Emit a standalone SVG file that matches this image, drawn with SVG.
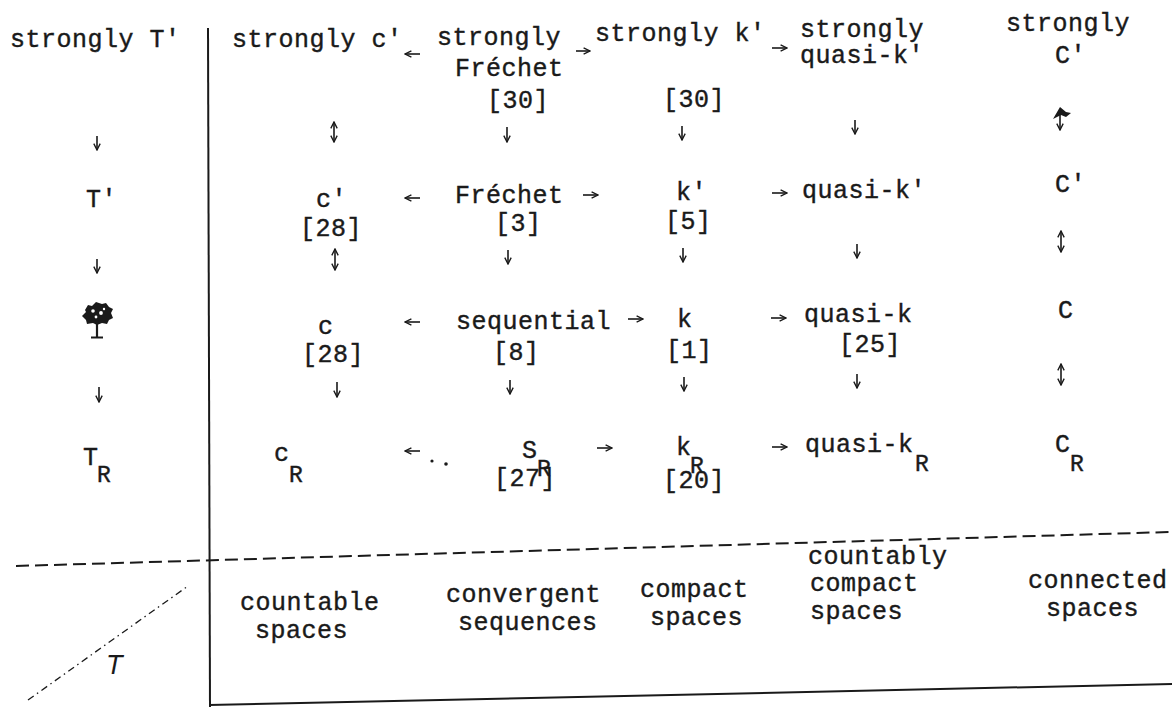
<svg xmlns="http://www.w3.org/2000/svg" width="1176" height="707" viewBox="0 0 1176 707">
<defs>
<style>
.t{font-family:"Liberation Mono","DejaVu Sans Mono",monospace;font-size:25px;letter-spacing:0.5px;fill:#1a1a1a;stroke:#1a1a1a;stroke-width:0.4}
.s{font-family:"Liberation Mono","DejaVu Sans Mono",monospace;font-size:23px;fill:#1a1a1a;stroke:#1a1a1a;stroke-width:0.4}
.ar{fill:none;stroke:#1a1a1a;stroke-width:1.6}
.ln{fill:none;stroke:#1a1a1a;stroke-width:2}
</style>
<marker id="ah" viewBox="0 0 10 10" refX="9" refY="5" markerWidth="8" markerHeight="8" markerUnits="userSpaceOnUse" orient="auto-start-reverse">
<path d="M1,1 L9,5 L1,9" fill="none" stroke="#1a1a1a" stroke-width="1.7"/>
</marker>
</defs>
<rect width="1176" height="707" fill="#fff"/>

<g id="frame">
<line class="ln" x1="208" y1="28" x2="210" y2="707"/>
<line class="ln" x1="16" y1="566" x2="1170" y2="532" stroke-dasharray="13 6"/>
<line class="ln" x1="209" y1="705" x2="1172" y2="684"/>
<line x1="28" y1="700" x2="188" y2="586" stroke="#1a1a1a" stroke-width="1.3" stroke-dasharray="7 4 1.5 4"/>
</g>

<g id="n-strongly-T"><text class="t" x="10" y="47">strongly T'</text></g>
<g id="n-strongly-c"><text class="t" x="232" y="47">strongly c'</text></g>
<g id="n-strongly-frechet"><text class="t" x="437" y="45">strongly</text><text class="t" x="455" y="76">Fréchet</text><text class="t" x="487" y="108">[30]</text></g>
<g id="n-strongly-k"><text class="t" x="595" y="41">strongly k'</text><text class="t" x="663" y="107">[30]</text></g>
<g id="n-strongly-quasi-k"><text class="t" x="800" y="37">strongly</text><text class="t" x="800" y="63">quasi-k'</text></g>
<g id="n-strongly-C"><text class="t" x="1006" y="31">strongly</text><text class="t" x="1055" y="63">C'</text></g>

<g id="n-T1"><text class="t" x="86" y="207">T'</text></g>
<g id="n-c1"><text class="t" x="316" y="207">c'</text><text class="t" x="300" y="236">[28]</text></g>
<g id="n-frechet"><text class="t" x="455" y="203">Fréchet</text><text class="t" x="495" y="231">[3]</text></g>
<g id="n-k1"><text class="t" x="676" y="200">k'</text><text class="t" x="665" y="229">[5]</text></g>
<g id="n-quasi-k1"><text class="t" x="802" y="198">quasi-k'</text></g>
<g id="n-C1"><text class="t" x="1055" y="192">C'</text></g>

<g id="n-T">
<path d="M85,310 l3,-5 4,1 4,-4 6,2 4,-1 3,4 4,2 -2,4 2,5 -4,2 -2,4 -5,-1 -5,2 -4,-2 -6,1 -1,-4 -4,-4 4,-4z" fill="#1a1a1a"/>
<circle cx="93" cy="311" r="1.8" fill="#fff"/><circle cx="101" cy="313" r="1.9" fill="#fff"/><circle cx="96" cy="317" r="1.4" fill="#fff"/><circle cx="104" cy="309" r="1.2" fill="#fff"/>
<line x1="97" y1="320" x2="97" y2="337" stroke="#1a1a1a" stroke-width="2.2"/>
<line x1="91" y1="337.5" x2="103" y2="337.5" stroke="#1a1a1a" stroke-width="2"/>
</g>
<g id="n-c"><text class="t" x="318" y="334">c</text><text class="t" x="302" y="362">[28]</text></g>
<g id="n-sequential"><text class="t" x="456" y="329">sequential</text><text class="t" x="493" y="360">[8]</text></g>
<g id="n-k"><text class="t" x="677" y="327">k</text><text class="t" x="666" y="358">[1]</text></g>
<g id="n-quasi-k"><text class="t" x="804" y="322">quasi-k</text><text class="t" x="839" y="352">[25]</text></g>
<g id="n-C"><text class="t" x="1058" y="318">C</text></g>

<g id="n-TR"><text class="t" x="83" y="465">T</text><text class="s" x="97" y="482">R</text></g>
<g id="n-cR"><text class="t" x="274" y="461">c</text><text class="s" x="289" y="482">R</text></g>
<g id="n-SR"><text class="t" x="522" y="458">S</text><text class="s" x="537" y="476">R</text><text class="t" x="494" y="486">[27]</text>
<circle cx="432" cy="461" r="1.6" fill="#1a1a1a"/><circle cx="446" cy="464" r="1.8" fill="#1a1a1a"/></g>
<g id="n-kR"><text class="t" x="676" y="455">k</text><text class="s" x="690" y="473">R</text><text class="t" x="663" y="488">[20]</text></g>
<g id="n-quasi-kR"><text class="t" x="805" y="452">quasi-k</text><text class="s" x="915" y="471">R</text></g>
<g id="n-CR"><text class="t" x="1055" y="452">C</text><text class="s" x="1070" y="471">R</text></g>

<g id="n-countable"><text class="t" x="240" y="610">countable</text><text class="t" x="255" y="638">spaces</text></g>
<g id="n-convergent"><text class="t" x="446" y="602">convergent</text><text class="t" x="458" y="630">sequences</text></g>
<g id="n-compact"><text class="t" x="640" y="597">compact</text><text class="t" x="650" y="625">spaces</text></g>
<g id="n-countably"><text class="t" x="808" y="564">countably</text><text class="t" x="810" y="591">compact</text><text class="t" x="810" y="619">spaces</text></g>
<g id="n-connected"><text class="t" x="1028" y="588">connected</text><text class="t" x="1046" y="616">spaces</text></g>
<g id="n-Tlabel"><text x="106" y="674" font-family="Liberation Sans, sans-serif" font-style="italic" font-size="27" fill="#1a1a1a">T</text></g>

<g id="connectors">
<line class="ar" x1="420" y1="54" x2="405" y2="54" marker-end="url(#ah)"/>
<line class="ar" x1="576" y1="51" x2="590" y2="51" marker-end="url(#ah)"/>
<line class="ar" x1="772" y1="48" x2="787" y2="48" marker-end="url(#ah)"/>
<line class="ar" x1="420" y1="198" x2="405" y2="198" marker-end="url(#ah)"/>
<line class="ar" x1="583" y1="195" x2="598" y2="195" marker-end="url(#ah)"/>
<line class="ar" x1="772" y1="193" x2="787" y2="193" marker-end="url(#ah)"/>
<line class="ar" x1="420" y1="322" x2="405" y2="322" marker-end="url(#ah)"/>
<line class="ar" x1="628" y1="319" x2="643" y2="319" marker-end="url(#ah)"/>
<line class="ar" x1="771" y1="318" x2="786" y2="318" marker-end="url(#ah)"/>
<line class="ar" x1="420" y1="451" x2="405" y2="451" marker-end="url(#ah)"/>
<line class="ar" x1="597" y1="448" x2="612" y2="448" marker-end="url(#ah)"/>
<line class="ar" x1="772" y1="447" x2="787" y2="447" marker-end="url(#ah)"/>
<line class="ar" x1="97" y1="136" x2="97" y2="150" marker-end="url(#ah)"/>
<line class="ar" x1="334" y1="122" x2="334" y2="142" marker-start="url(#ah)" marker-end="url(#ah)"/>
<line class="ar" x1="507" y1="127" x2="507" y2="142" marker-end="url(#ah)"/>
<line class="ar" x1="682" y1="126" x2="682" y2="140" marker-end="url(#ah)"/>
<line class="ar" x1="855" y1="120" x2="855" y2="134" marker-end="url(#ah)"/>
<line class="ar" x1="1060" y1="112" x2="1060" y2="130" stroke-width="2" marker-end="url(#ah)"/>
<path d="M1053,119 L1060,107 L1066,112 L1071,113 L1066,117 L1061,115 Z" fill="#1a1a1a"/>
<line class="ar" x1="97" y1="259" x2="97" y2="273" marker-end="url(#ah)"/>
<line class="ar" x1="335" y1="249" x2="335" y2="270" marker-start="url(#ah)" marker-end="url(#ah)"/>
<line class="ar" x1="508" y1="250" x2="508" y2="264" marker-end="url(#ah)"/>
<line class="ar" x1="683" y1="248" x2="683" y2="262" marker-end="url(#ah)"/>
<line class="ar" x1="857" y1="244" x2="857" y2="258" marker-end="url(#ah)"/>
<line class="ar" x1="1061" y1="231" x2="1061" y2="252" marker-start="url(#ah)" marker-end="url(#ah)"/>
<line class="ar" x1="99" y1="387" x2="99" y2="402" marker-end="url(#ah)"/>
<line class="ar" x1="337" y1="382" x2="337" y2="397" marker-end="url(#ah)"/>
<line class="ar" x1="510" y1="380" x2="510" y2="394" marker-end="url(#ah)"/>
<line class="ar" x1="684" y1="377" x2="684" y2="391" marker-end="url(#ah)"/>
<line class="ar" x1="857" y1="374" x2="857" y2="388" marker-end="url(#ah)"/>
<line class="ar" x1="1061" y1="364" x2="1061" y2="385" marker-start="url(#ah)" marker-end="url(#ah)"/>
</g>
</svg>
